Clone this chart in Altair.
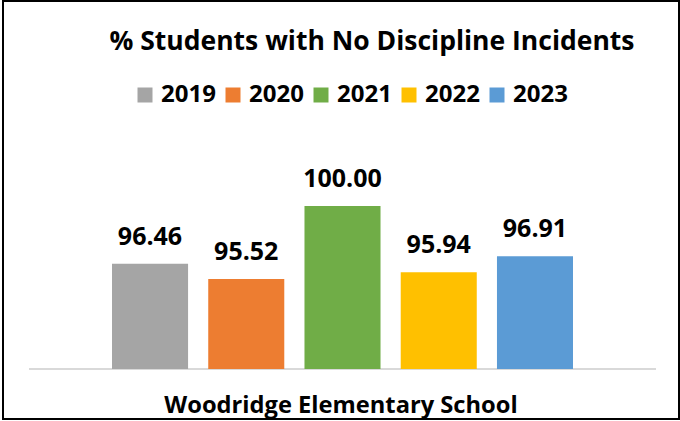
import altair as alt
import pandas as pd

years = ["2019", "2020", "2021", "2022", "2023"]
values = [96.46, 95.52, 100.00, 95.94, 96.91]
colors = ["#A5A5A5", "#ED7D31", "#70AD47", "#FFC000", "#5B9BD5"]
school = "Woodridge Elementary School"
title_text = "% Students with No Discipline Incidents"

df = pd.DataFrame({"year": years, "value": values, "school": [school] * len(years)})

FONT = "Open Sans"

x = alt.X("year:N", scale=alt.Scale(range=[109, 570], paddingInner=0.21, paddingOuter=0), axis=None)
y = alt.Y("value:Q", scale=alt.Scale(domain=[90, 100], range=[368, 205], zero=False), axis=None)

base = alt.Chart(df)

bars = base.mark_bar().encode(
    x=x,
    y=y,
    y2=alt.datum(90),
    color=alt.Color(
        "year:N",
        scale=alt.Scale(domain=years, range=colors),
        legend=alt.Legend(
            title=None,
            orient="none",
            legendX=130,
            legendY=82,
            direction="horizontal",
            columns=5,
            symbolType="square",
            symbolSize=225,
            symbolStrokeWidth=0,
            labelFont=FONT,
            labelFontSize=24,
            labelFontWeight="bold",
            labelColor="#000000",
            labelOffset=4,
            columnPadding=5,
        ),
    ),
)

labels = base.mark_text(
    font=FONT, fontSize=25, fontWeight="bold", color="#000000",
    baseline="alphabetic", align="center", dy=-19,
).encode(x=x, y=y, text=alt.Text("value:Q", format=".2f"))

axis_line = alt.Chart(pd.DataFrame({"v": [90]})).mark_rule(color="#D9D9D9", strokeWidth=2).encode(
    x=alt.value(26), x2=alt.value(653),
    y=alt.Y("v:Q", scale=alt.Scale(domain=[90, 100], range=[368, 205], zero=False), axis=None),
)

title = alt.Chart(pd.DataFrame({"t": [title_text]})).mark_text(
    font=FONT, fontSize=26.5, fontWeight="bold", color="#000000",
    baseline="alphabetic", align="center",
).encode(x=alt.value(369), y=alt.value(49), text="t:N")

school_label = alt.Chart(pd.DataFrame({"t": [school]})).mark_text(
    font=FONT, fontSize=23.7, fontWeight="bold", color="#000000",
    baseline="alphabetic", align="center",
).encode(x=alt.value(338), y=alt.value(412), text="t:N")

chart = alt.layer(axis_line, bars, labels, title, school_label).properties(
    width=676, height=418,
    autosize=alt.AutoSizeParams(type="none"),
    padding={"left": 3, "top": 1, "right": 1, "bottom": 2},
    background="#FFFFFF",
).configure_view(stroke="#000000", strokeWidth=2)

chart.save("out.html", embed_options={"renderer": "svg", "actions": False})
